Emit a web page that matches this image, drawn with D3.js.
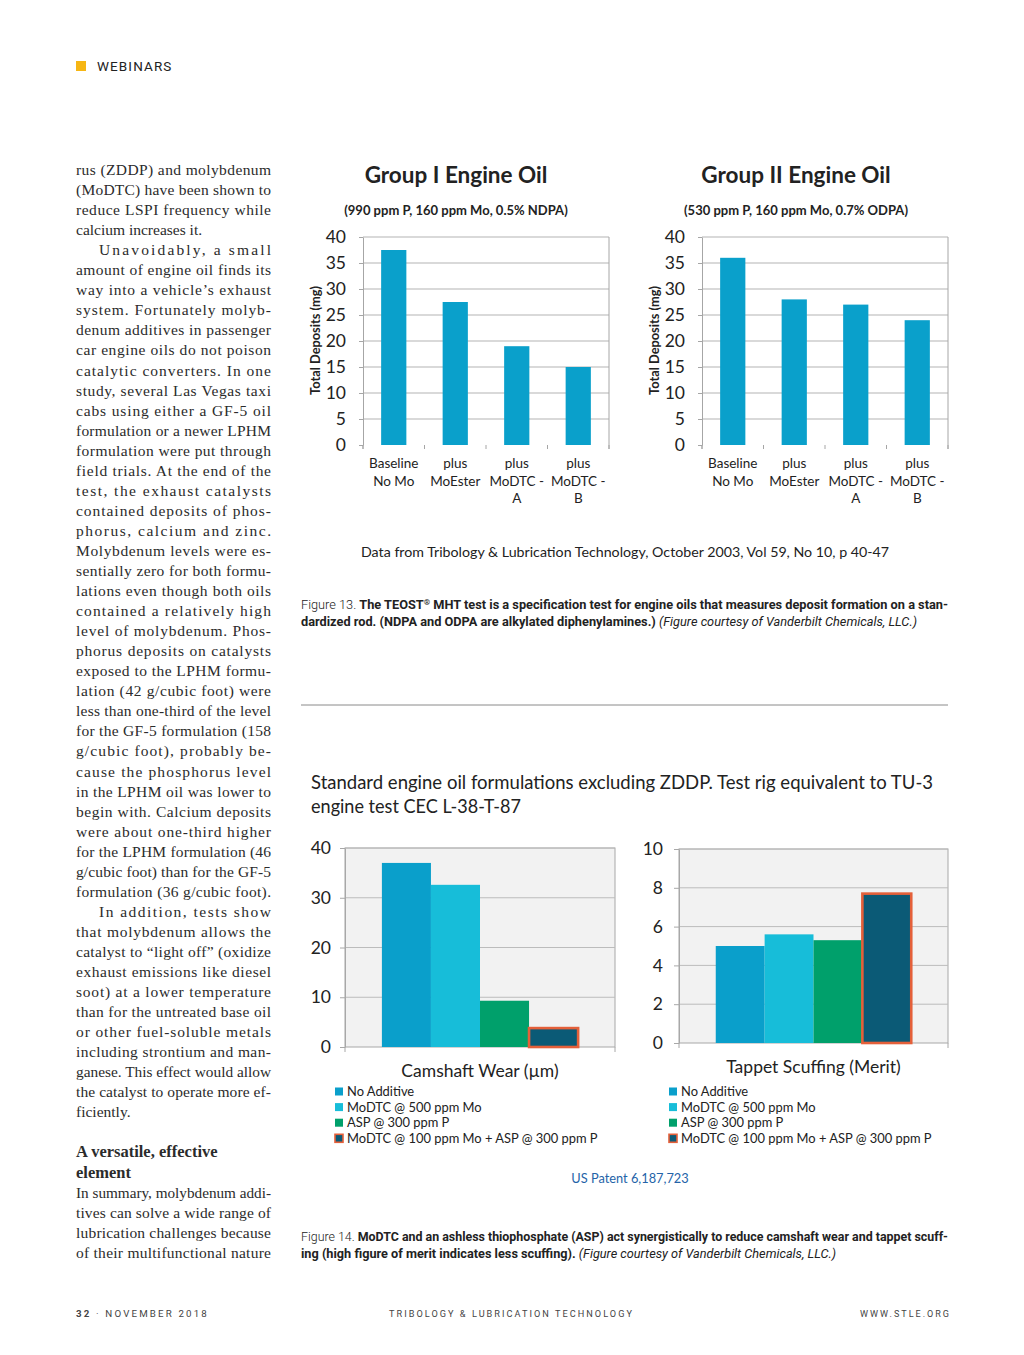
<!DOCTYPE html>
<html><head><meta charset="utf-8">
<script src="https://cdn.jsdelivr.net/npm/d3@7"></script>
<style>body{margin:0;background:#fff} svg{display:block}</style>
</head><body><svg id="c" width="1024" height="1355"></svg>
<script>
// ---------- DATA ----------
const depositCategories = ["Baseline No Mo", "plus MoEster", "plus MoDTC - A", "plus MoDTC - B"];
const depositCategoryLines = [["Baseline", "No Mo"], ["plus", "MoEster"], ["plus", "MoDTC -", "A"], ["plus", "MoDTC -", "B"]];
const groupIValues = [37.5, 27.5, 19, 15];
const groupIIValues = [36, 28, 27, 24];
const depositTicks = [0, 5, 10, 15, 20, 25, 30, 35, 40];

const additiveSeries = ["No Additive", "MoDTC @ 500 ppm Mo", "ASP @ 300 ppm P", "MoDTC @ 100 ppm Mo + ASP @ 300 ppm P"];
const camshaftWear = [37, 32.6, 9.3, 3.8];
const tappetScuffing = [5.0, 5.6, 5.3, 7.7];
const wearTicks = [0, 10, 20, 30, 40];
const scuffTicks = [0, 2, 4, 6, 8, 10];
const seriesColors = ["#0a9fcb", "#17bdd9", "#00a06b", "#0b5a76"];
const highlightStroke = "#e4603a";
const depositBarColor = "#0aa0cb";

const leftLines = [
["rus (ZDDP) and molybdenum",1,0],["(MoDTC) have been shown to",1,0],["reduce LSPI frequency while",1,0],
["calcium increases it.",0,0],["Unavoidably, a small",1,1],["amount of engine oil finds its",1,0],
["way into a vehicle’s exhaust",1,0],["system. Fortunately molyb-",1,0],["denum additives in passenger",1,0],
["car engine oils do not poison",1,0],["catalytic converters. In one",1,0],["study, several Las Vegas taxi",1,0],
["cabs using either a GF-5 oil",1,0],["formulation or a newer LPHM",1,0],["formulation were put through",1,0],
["field trials. At the end of the",1,0],["test, the exhaust catalysts",1,0],["contained deposits of phos-",1,0],
["phorus, calcium and zinc.",1,0],["Molybdenum levels were es-",1,0],["sentially zero for both formu-",1,0],
["lations even though both oils",1,0],["contained a relatively high",1,0],["level of molybdenum. Phos-",1,0],
["phorus deposits on catalysts",1,0],["exposed to the LPHM formu-",1,0],["lation (42 g/cubic foot) were",1,0],
["less than one-third of the level",1,0],["for the GF-5 formulation (158",1,0],["g/cubic foot), probably be-",1,0],
["cause the phosphorus level",1,0],["in the LPHM oil was lower to",1,0],["begin with. Calcium deposits",1,0],
["were about one-third higher",1,0],["for the LPHM formulation (46",1,0],["g/cubic foot) than for the GF-5",1,0],
["formulation (36 g/cubic foot).",1,0],["In addition, tests show",1,1],["that molybdenum allows the",1,0],
["catalyst to “light off” (oxidize",1,0],["exhaust emissions like diesel",1,0],["soot) at a lower temperature",1,0],
["than for the untreated base oil",1,0],["or other fuel-soluble metals",1,0],["including strontium and man-",1,0],
["ganese. This effect would allow",1,0],["the catalyst to operate more ef-",1,0],["ficiently.",0,0],
["",0,0],["A versatile, effective",0,0,1],["element",0,0,1],
["In summary, molybdenum addi-",1,0],["tives can solve a wide range of",1,0],["lubrication challenges because",1,0],
["of their multifunctional nature",1,0]
];

// ---------- DRAW ----------
const svg = d3.select("#c");
svg.append("rect").attr("width",1024).attr("height",1355).attr("fill","#fff");
const CH = "Lato, 'Open Sans', sans-serif";
const CAP = "Roboto, 'Liberation Sans', sans-serif";

// header
svg.append("rect").attr("x",76).attr("y",61).attr("width",10).attr("height",10).attr("fill","#f6b614");
svg.append("text").attr("x",97).attr("y",71).text("WEBINARS").attr("font-family",CAP).attr("font-size",13.5)
  .attr("letter-spacing",1.1).attr("fill","#222");

// left column
leftLines.forEach((d,i)=>{
  if(!d[0]) return;
  const x = d[2] ? 99 : 76;
  const t = svg.append("text").attr("x",x).attr("y",175+20.05*i).text(d[0])
    .attr("font-family","'Liberation Serif', serif").attr("font-size",d[3]?16.5:15.5)
    .attr("font-weight",d[3]?"bold":null).attr("fill","#2b2b2b");
  if(d[1]){
    const w = 271 - x, nat = t.node().getComputedTextLength();
    t.attr("textLength",w).attr("lengthAdjust", nat<=w ? "spacing" : "spacingAndGlyphs");
  }
});

function fitText(t, w){ t.attr("textLength",w).attr("lengthAdjust","spacingAndGlyphs"); }

// deposit charts
function depositChart(values, cfg){
  const g = svg.append("g");
  const x = d3.scaleBand().domain(depositCategories).range([cfg.x0,cfg.x1]).paddingInner(0.59).paddingOuter(0.295);
  const y = d3.scaleLinear().domain([0,40]).range([cfg.y1,cfg.y0]);
  g.selectAll(".grid").data(depositTicks.filter(t=>t>0)).join("line")
    .attr("x1",cfg.x0).attr("x2",cfg.x1).attr("y1",d=>y(d)).attr("y2",d=>y(d)).attr("stroke","#b3b3b3");
  g.append("line").attr("x1",cfg.x1).attr("x2",cfg.x1).attr("y1",cfg.y0).attr("y2",cfg.y1+4).attr("stroke","#a6a6a6");
  const ax = g.append("g").attr("transform",`translate(${cfg.x0},0)`)
    .call(d3.axisLeft(y).tickValues(depositTicks).tickSize(4).tickPadding(13).tickSizeOuter(0));
  ax.select(".domain").attr("stroke","#a6a6a6");
  ax.selectAll(".tick line").attr("stroke","#a6a6a6");
  ax.selectAll(".tick text").attr("font-family",CH).attr("font-size",17.5).attr("fill","#222");
  g.append("line").attr("x1",cfg.x0).attr("x2",cfg.x0).attr("y1",cfg.y1).attr("y2",cfg.y1+4).attr("stroke","#a6a6a6");
  const bounds = depositCategories.map(c=>x(c)+x.bandwidth()/2-x.step()/2);
  bounds.push(bounds[bounds.length-1]+x.step());
  g.selectAll(".bt").data(bounds).join("line").attr("x1",d=>d).attr("x2",d=>d)
    .attr("y1",cfg.y1).attr("y2",cfg.y1+4).attr("stroke","#a6a6a6");
  g.selectAll(".bar").data(values).join("rect")
    .attr("x",(d,i)=>x(depositCategories[i])).attr("y",d=>y(d))
    .attr("width",x.bandwidth()).attr("height",d=>y(0)-y(d)).attr("fill",depositBarColor);
  depositCategories.forEach((c,i)=>{
    const t = g.append("text").attr("text-anchor","middle").attr("font-family",CH).attr("font-size",13.5).attr("fill","#222");
    depositCategoryLines[i].forEach((ln,k)=>{
      t.append("tspan").attr("x",x(c)+x.bandwidth()/2).attr("y",cfg.y1+23+17.5*k).text(ln);
    });
  });
  g.append("text").attr("transform",`translate(${cfg.x0-43},${(cfg.y0+cfg.y1)/2-0.5}) rotate(-90)`)
    .attr("text-anchor","middle").attr("font-family",CH).attr("font-weight","bold").attr("font-size",12.8)
    .attr("fill","#222").text("Total Deposits (mg)");
  g.append("text").attr("x",cfg.tx).attr("y",183).attr("text-anchor","middle").attr("font-family",CH)
    .attr("font-weight","bold").attr("font-size",22.5).attr("fill","#222").text(cfg.title);
  g.append("text").attr("x",cfg.tx).attr("y",215).attr("text-anchor","middle").attr("font-family",CH)
    .attr("font-weight","bold").attr("font-size",13).attr("fill","#222").text(cfg.subtitle);
}
depositChart(groupIValues,{x0:363,x1:609,y0:237,y1:445,tx:456,title:"Group I Engine Oil",subtitle:"(990 ppm P, 160 ppm Mo, 0.5% NDPA)"});
depositChart(groupIIValues,{x0:702,x1:948,y0:237,y1:445,tx:796,title:"Group II Engine Oil",subtitle:"(530 ppm P, 160 ppm Mo, 0.7% ODPA)"});

fitText(svg.append("text").attr("x",361).attr("y",557).attr("font-family",CH).attr("font-size",13.5).attr("fill","#222")
  .text("Data from Tribology & Lubrication Technology, October 2003, Vol 59, No 10, p 40-47"), 528);

// captions
function caption(y, parts, w){
  const t = svg.append("text").attr("x",301).attr("y",y).attr("font-family",CAP).attr("font-size",12.5).attr("fill","#222");
  parts.forEach(p=>{
    const s = t.append("tspan").text(p[0]);
    if(p[1]==="b") s.attr("font-weight","bold");
    if(p[1]==="l") s.attr("font-weight",300);
    if(p[1]==="i") s.attr("font-style","italic");
    if(p[1]==="sup") s.attr("font-weight","bold").attr("font-size",8).attr("dy",-4);
    if(p[1]==="b2") s.attr("font-weight","bold").attr("dy",4);
  });
  fitText(t, w);
}
caption(609,[["Figure 13.  ","l"],["The TEOST","b"],["®","sup"],[" MHT test is a specification test for engine oils that measures deposit formation on a stan-","b2"]],647);
caption(626,[["dardized rod. (NDPA and ODPA are alkylated diphenylamines.) ","b"],["(Figure courtesy of Vanderbilt Chemicals, LLC.)","i"]],616);

svg.append("line").attr("x1",301).attr("x2",948).attr("y1",705).attr("y2",705).attr("stroke","#8a8a8a");

fitText(svg.append("text").attr("x",311).attr("y",789).attr("font-family",CH).attr("font-size",18.5).attr("fill","#222")
  .text("Standard engine oil formulations excluding ZDDP. Test rig equivalent to TU-3"), 622);
fitText(svg.append("text").attr("x",311).attr("y",813).attr("font-family",CH).attr("font-size",18.5).attr("fill","#222")
  .text("engine test CEC L-38-T-87"), 210);

// additive charts
function additiveChart(values, ticks, cfg){
  const g = svg.append("g");
  const x0 = d3.scaleBand().domain([cfg.label]).range([cfg.x0,cfg.x1]).paddingInner(0).paddingOuter(0.188);
  const x1 = d3.scaleBand().domain(additiveSeries).range([0,x0.bandwidth()]).padding(0);
  const y = d3.scaleLinear().domain([0,d3.max(ticks)]).range([cfg.y1,cfg.y0]);
  g.append("rect").attr("x",cfg.x0).attr("y",cfg.y0).attr("width",cfg.x1-cfg.x0).attr("height",cfg.y1-cfg.y0)
    .attr("fill","#f2f2f2").attr("stroke","#a8a8a8");
  g.selectAll(".grid").data(ticks.filter(t=>t>0)).join("line")
    .attr("x1",cfg.x0).attr("x2",cfg.x1).attr("y1",d=>y(d)).attr("y2",d=>y(d)).attr("stroke","#bcbcbc");
  const ax = g.append("g").attr("transform",`translate(${cfg.x0},0)`)
    .call(d3.axisLeft(y).tickValues(ticks).tickSize(5).tickPadding(cfg.pad).tickSizeOuter(0));
  ax.select(".domain").attr("stroke","#a8a8a8");
  ax.selectAll(".tick line").attr("stroke","#a8a8a8");
  ax.selectAll(".tick text").attr("font-family",CH).attr("font-size",17.5).attr("fill","#222");
  [cfg.x0,cfg.x1].forEach(xx=>g.append("line").attr("x1",xx).attr("x2",xx).attr("y1",cfg.y1).attr("y2",cfg.y1+5).attr("stroke","#a8a8a8"));
  g.selectAll(".bar").data(values).join("rect")
    .attr("x",(d,i)=>x0(cfg.label)+x1(additiveSeries[i])).attr("y",d=>y(d))
    .attr("width",x1.bandwidth()).attr("height",d=>y(0)-y(d))
    .attr("fill",(d,i)=>seriesColors[i])
    .attr("stroke",(d,i)=>i===3?highlightStroke:null).attr("stroke-width",(d,i)=>i===3?2.6:0);
  g.append("text").attr("x",x0(cfg.label)+x0.bandwidth()/2).attr("y",cfg.ly).attr("text-anchor","middle")
    .attr("font-family",CH).attr("font-size",17.5).attr("fill","#222").text(cfg.label);
  additiveSeries.forEach((s,i)=>{
    const yy = 1091.5 + 15.6*i;
    g.append("rect").attr("x",cfg.lx).attr("y",yy-4).attr("width",8).attr("height",8)
      .attr("fill",seriesColors[i]).attr("stroke",i===3?highlightStroke:null).attr("stroke-width",i===3?1.6:0);
    g.append("text").attr("x",cfg.lx+12).attr("y",yy+4.5).attr("font-family",CH).attr("font-size",12.9)
      .attr("fill","#222").text(s);
  });
}
additiveChart(camshaftWear, wearTicks, {x0:345,x1:615,y0:848,y1:1047,pad:9,label:"Camshaft Wear (µm)",ly:1077,lx:335});
additiveChart(tappetScuffing, scuffTicks, {x0:679,x1:948,y0:849,y1:1043,pad:11,label:"Tappet Scuffing (Merit)",ly:1073,lx:669});

svg.append("text").attr("x",630).attr("y",1183).attr("text-anchor","middle").attr("font-family",CH)
  .attr("font-size",12.8).attr("fill","#2463a8").text("US Patent 6,187,723");

caption(1241,[["Figure 14.  ","l"],["MoDTC and an ashless thiophosphate (ASP) act synergistically to reduce camshaft wear and tappet scuff-","b"]],647);
caption(1258,[["ing (high figure of merit indicates less scuffing). ","b"],["(Figure courtesy of Vanderbilt Chemicals, LLC.)","i"]],535);

// footer
const ft = svg.append("text").attr("x",76).attr("y",1317).attr("font-family",CAP).attr("font-size",9).attr("fill","#444").attr("letter-spacing",2);
ft.append("tspan").attr("font-weight","bold").text("32");
ft.append("tspan").text(" · NOVEMBER 2018");
fitText(ft,133);
fitText(svg.append("text").attr("x",389).attr("y",1317).attr("font-family",CAP).attr("font-size",9).attr("fill","#444")
  .attr("letter-spacing",2).text("TRIBOLOGY & LUBRICATION TECHNOLOGY"),245);
fitText(svg.append("text").attr("x",860).attr("y",1317).attr("font-family",CAP).attr("font-size",9).attr("fill","#444")
  .attr("letter-spacing",2).text("WWW.STLE.ORG"),91);
</script></body></html>
